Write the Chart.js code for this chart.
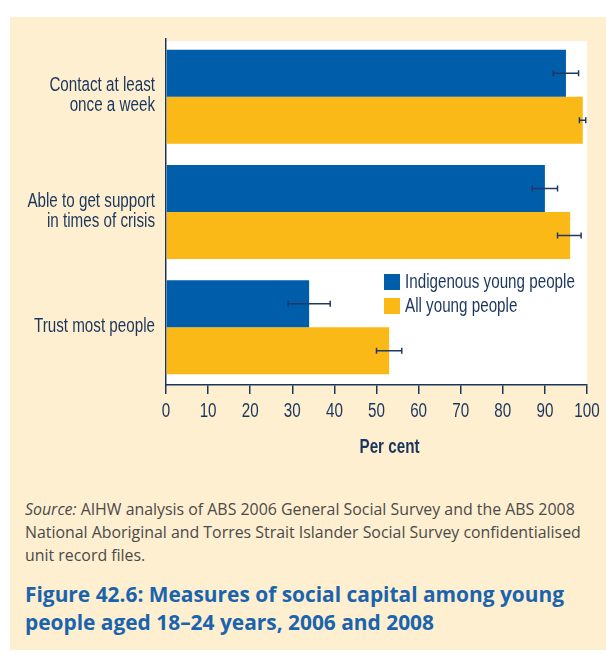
<!DOCTYPE html>
<html lang="en">
<head>
<meta charset="utf-8">
<script src="https://cdn.jsdelivr.net/npm/chart.js@4.4.0/dist/chart.umd.min.js"></script>
<style>
  body { margin: 0; width: 606px; height: 658px; background: #fff; position: relative; overflow: hidden; }
  #panel { position: absolute; left: 10px; top: 17px; width: 596px; height: 633px; background: #feefd0; }
  #wrap { position: absolute; left: 0; top: 0; width: 606px; height: 470px; }
  #source { position: absolute; left: 25px; top: 498px; white-space: nowrap; font: 15.9px "Open Sans", sans-serif; line-height: 23px; color: #4a4a4a; }
  #title { position: absolute; left: 25px; top: 580px; white-space: nowrap; font: bold 20.9px "Open Sans", sans-serif; line-height: 28px; color: #1a63ad; }
</style>
</head>
<body>
<div id="panel"></div>
<div id="wrap"><canvas id="chart" width="606" height="470"></canvas></div>
<div id="source"><i>Source:</i> AIHW analysis of ABS 2006 General Social Survey and the ABS 2008<br>National Aboriginal and Torres Strait Islander Social Survey confidentialised<br>unit record files.</div>
<div id="title">Figure 42.6: Measures of social capital among young<br>people aged 18–24 years, 2006 and 2008</div>
<script>
// categories (multi-line labels as arrays)
const categories = [['Contact at least', 'once a week'], ['Able to get support', 'in times of crisis'], ['Trust most people']];

// per cent values
const indigenous = [95, 90, 34];
const allYoung = [99, 96, 53];

// error bar ends
const indigenousLow = [92, 87, 29];
const indigenousHigh = [98, 93, 39];
const allLow = [98.2, 93, 50];
const allHigh = [99.7, 98.6, 56];

const axisTitle = 'Per cent';

const navy = '#1b365d';
const narrowFont = '"Liberation Sans", Arial, sans-serif';
const squeeze = 0.76; // the original uses a condensed face, none is installed

// draw text squeezed horizontally to look condensed
function narrowText(ctx, text, x, y, align) {
  ctx.save();
  ctx.translate(x, y);
  ctx.scale(squeeze, 1);
  ctx.textAlign = align;
  ctx.fillText(text, 0, 0);
  ctx.restore();
}

// white plot background
const plotBg = {
  id: 'plotBg',
  beforeDraw(chart) {
    const a = chart.chartArea;
    const ctx = chart.ctx;
    ctx.save();
    ctx.fillStyle = '#ffffff';
    ctx.fillRect(a.left, a.top + 2, a.right - a.left, a.bottom - a.top - 2);
    ctx.restore();
  }
};

// error bars drawn on top of the bars
const errorBars = {
  id: 'errorBars',
  afterDatasetsDraw(chart) {
    const ctx = chart.ctx;
    const x = chart.scales.x;
    const ranges = [[indigenousLow, indigenousHigh], [allLow, allHigh]];
    ctx.save();
    ctx.strokeStyle = '#1f3864';
    ctx.lineWidth = 1.5;
    ranges.forEach((r, i) => {
      chart.getDatasetMeta(i).data.forEach((bar, j) => {
        const x1 = x.getPixelForValue(r[0][j]);
        const x2 = x.getPixelForValue(r[1][j]);
        const y = bar.y;
        ctx.beginPath();
        ctx.moveTo(x1, y); ctx.lineTo(x2, y);
        ctx.moveTo(x1, y - 3); ctx.lineTo(x1, y + 3);
        ctx.moveTo(x2, y - 3); ctx.lineTo(x2, y + 3);
        ctx.stroke();
      });
    });
    ctx.restore();
  }
};

// axis labels, axis title and legend in the condensed look
const labels = {
  id: 'labels',
  afterDraw(chart) {
    const ctx = chart.ctx;
    const a = chart.chartArea;
    const xs = chart.scales.x;
    const ys = chart.scales.y;
    ctx.save();
    ctx.fillStyle = navy;
    ctx.textBaseline = 'middle';
    ctx.font = '20px ' + narrowFont;

    // category labels
    chart.data.labels.forEach((lines, i) => {
      const cy = ys.getPixelForValue(i);
      lines.forEach((line, k) => {
        const y = cy + (k - (lines.length - 1) / 2) * 20 - 1;
        narrowText(ctx, line, a.left - 11, y, 'right');
      });
    });

    // value ticks
    xs.ticks.forEach(t => {
      narrowText(ctx, String(t.value), xs.getPixelForValue(t.value), 411, 'center');
    });

    // axis title
    ctx.font = 'bold 20px ' + narrowFont;
    narrowText(ctx, axisTitle, (a.left + a.right) / 2 + 13, 447, 'center');

    // legend inside the plot
    ctx.font = '20px ' + narrowFont;
    const left = a.left + 218;
    let top = a.top + 235;
    chart.data.datasets.forEach(ds => {
      ctx.fillStyle = ds.backgroundColor;
      ctx.fillRect(left, top, 16, 16);
      ctx.fillStyle = navy;
      narrowText(ctx, ds.label, left + 21, top + 8, 'left');
      top += 24;
    });
    ctx.restore();
  }
};

new Chart(document.getElementById('chart'), {
  type: 'bar',
  data: {
    labels: categories,
    datasets: [
      { label: 'Indigenous young people', data: indigenous, backgroundColor: '#005daa' },
      { label: 'All young people', data: allYoung, backgroundColor: '#fbb917' }
    ]
  },
  options: {
    indexAxis: 'y',
    responsive: false,
    animation: false,
    categoryPercentage: 0.815,
    barPercentage: 1.0,
    layout: { padding: { top: 39, right: 19, left: 0, bottom: 0 } },
    plugins: { legend: { display: false }, tooltip: { enabled: false } },
    scales: {
      x: {
        min: 0, max: 100,
        ticks: { stepSize: 10, display: false },
        grid: { drawOnChartArea: false, drawTicks: true, tickLength: 9, color: navy, lineWidth: 1.5 },
        border: { display: true, color: navy, width: 1.5 },
        afterFit(scale) { scale.height = 85; }
      },
      y: {
        ticks: { display: false },
        grid: { display: false },
        border: { display: true, color: navy, width: 1.5 },
        afterFit(scale) { scale.width = 166; }
      }
    }
  },
  plugins: [plotBg, errorBars, labels]
});
</script>
</body>
</html>
